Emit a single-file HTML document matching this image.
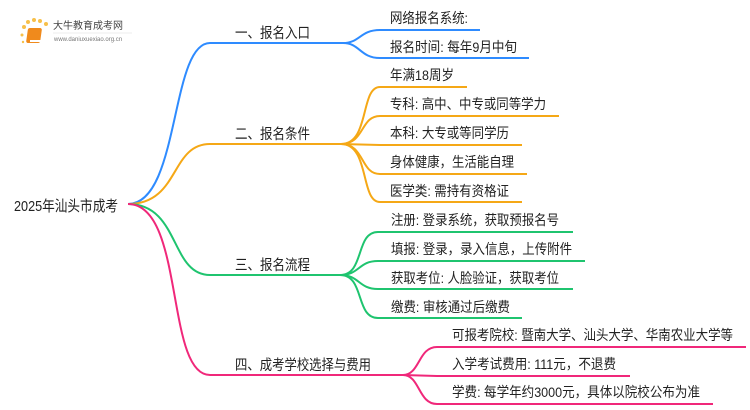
<!DOCTYPE html>
<html><head><meta charset="utf-8"><style>
body{margin:0;background:#fff;}
svg{display:block;}
text{font-family:"Liberation Sans","Noto Sans CJK SC",sans-serif;fill:#222;}
</style></head><body>
<svg width="750" height="410" viewBox="0 0 750 410" xmlns="http://www.w3.org/2000/svg">
<g fill="none" stroke-width="2">
<path d="M128,204 C180,204 170,43 210,43 L343,43" stroke="#2e8bff"/>
<path d="M343,43 C360,43 360,30 380,30 L480,30" stroke="#2e8bff"/>
<path d="M343,43 C360,43 360,58 380,58 L529,58" stroke="#2e8bff"/>
<path d="M128,204 C180,204 170,144 210,144 L341,144" stroke="#f5a816"/>
<path d="M341,144 C370,144 360,87 380,87 L467,87" stroke="#f5a816"/>
<path d="M341,144 C365,144 360,116 380,116 L559,116" stroke="#f5a816"/>
<path d="M341,144 L380,145 L522,145" stroke="#f5a816"/>
<path d="M341,144 C365,144 360,174 380,174 L527,174" stroke="#f5a816"/>
<path d="M341,144 C370,144 360,202 380,202 L522,202" stroke="#f5a816"/>
<path d="M128,204 C180,204 170,275 210,275 L340,275" stroke="#1fc46f"/>
<path d="M340,275 C365,275 355,232 378,232 L573,232" stroke="#1fc46f"/>
<path d="M340,275 C360,275 358,261 378,261 L585,261" stroke="#1fc46f"/>
<path d="M340,275 C360,275 358,289 378,289 L573,289" stroke="#1fc46f"/>
<path d="M340,275 C365,275 355,318 378,318 L522,318" stroke="#1fc46f"/>
<path d="M128,204 C185,204 165,375 210,375 L403,375" stroke="#f0287a"/>
<path d="M403,375 C420,375 418,347 437,347 L746,347" stroke="#f0287a"/>
<path d="M403,375 L437,376 L630,376" stroke="#f0287a"/>
<path d="M403,375 C420,375 418,404 437,404 L713,404" stroke="#f0287a"/>
</g>
<g>
<circle cx="24" cy="27" r="2" fill="#f7c04a"/><circle cx="28" cy="22" r="2" fill="#f7c04a"/><circle cx="34" cy="20" r="2" fill="#f7c04a"/><circle cx="40" cy="21" r="2" fill="#f7c04a"/><circle cx="46" cy="24" r="2" fill="#f7c04a"/><circle cx="22" cy="35" r="1.5" fill="#f7c04a"/><circle cx="23" cy="42" r="1.2" fill="#f7c04a"/>
<rect x="32" y="28" width="14" height="15" rx="2" fill="#f08a1c" transform="skewX(-8)"/>
<rect x="30" y="40" width="12" height="2" fill="#fff"/>
<text x="53" y="29" font-size="10" style="fill:#444">大牛教育成考网</text>
<text x="54" y="41" font-size="6" style="fill:#777">www.daniuxuexiao.org.cn</text>
<line x1="53" y1="33" x2="132" y2="33" stroke="#ddd" stroke-width="0.6"/>
</g>
<g font-size="15">
<text x="14" y="211" textLength="104" lengthAdjust="spacingAndGlyphs">2025年汕头市成考</text>
</g>
<g font-size="14.5" lengthAdjust="spacingAndGlyphs">
<text x="235" y="38" textLength="75" lengthAdjust="spacingAndGlyphs">一、报名入口</text>
<text x="235" y="139" textLength="75" lengthAdjust="spacingAndGlyphs">二、报名条件</text>
<text x="235" y="270" textLength="75" lengthAdjust="spacingAndGlyphs">三、报名流程</text>
<text x="235" y="370" textLength="136" lengthAdjust="spacingAndGlyphs">四、成考学校选择与费用</text>
</g>
<g font-size="14">
<text x="390" y="23" textLength="78" lengthAdjust="spacingAndGlyphs">网络报名系统:</text>
<text x="390" y="52" textLength="127" lengthAdjust="spacingAndGlyphs">报名时间: 每年9月中旬</text>
<text x="390" y="80" textLength="64" lengthAdjust="spacingAndGlyphs">年满18周岁</text>
<text x="390" y="109" textLength="156" lengthAdjust="spacingAndGlyphs">专科: 高中、中专或同等学力</text>
<text x="390" y="138" textLength="119" lengthAdjust="spacingAndGlyphs">本科: 大专或等同学历</text>
<text x="390" y="167" textLength="124" lengthAdjust="spacingAndGlyphs">身体健康，生活能自理</text>
<text x="390" y="196" textLength="119" lengthAdjust="spacingAndGlyphs">医学类: 需持有资格证</text>
<text x="391" y="225" textLength="168" lengthAdjust="spacingAndGlyphs">注册: 登录系统，获取预报名号</text>
<text x="391" y="254" textLength="181" lengthAdjust="spacingAndGlyphs">填报: 登录，录入信息，上传附件</text>
<text x="391" y="283" textLength="168" lengthAdjust="spacingAndGlyphs">获取考位: 人脸验证，获取考位</text>
<text x="391" y="312" textLength="119" lengthAdjust="spacingAndGlyphs">缴费: 审核通过后缴费</text>
<text x="452" y="340" textLength="281" lengthAdjust="spacingAndGlyphs">可报考院校: 暨南大学、汕头大学、华南农业大学等</text>
<text x="452" y="369" textLength="164" lengthAdjust="spacingAndGlyphs">入学考试费用: 111元，不退费</text>
<text x="452" y="397" textLength="248" lengthAdjust="spacingAndGlyphs">学费: 每学年约3000元，具体以院校公布为准</text>
</g>
</svg>
</body></html>
